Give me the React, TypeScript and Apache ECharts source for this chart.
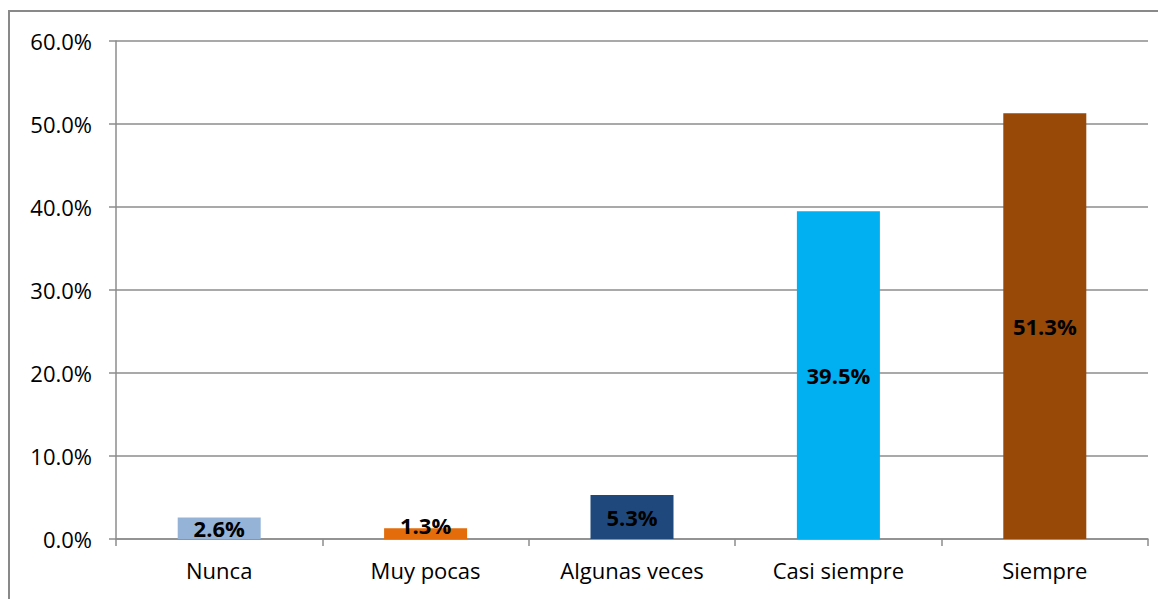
import React, { useEffect, useRef } from "react";
import * as echarts from "echarts";

const categories = ["Nunca", "Muy pocas", "Algunas veces", "Casi siempre", "Siempre"];
const values = [2.6, 1.3, 5.3, 39.5, 51.3];
const colors = ["#95B3D7", "#E46C0A", "#1F497D", "#00B0F0", "#984807"];
const yTicks = { min: 0, max: 60, interval: 10 };

export default function App() {
  const ref = useRef<HTMLDivElement>(null);
  useEffect(() => {
    if (!ref.current) return;
    const chart = echarts.init(ref.current, undefined, { renderer: "svg" });
    const font = "Open Sans";
    chart.setOption({
      animation: false,
      backgroundColor: "#ffffff",
      graphic: [
        {
          type: "rect",
          shape: { x: 1, y: 3, width: 1300, height: 800 },
          style: { fill: "none", stroke: "#898989", lineWidth: 2 },
          silent: true,
        },
      ],
      grid: { left: 108, top: 33, right: 18, bottom: 60, containLabel: false },
      xAxis: {
        type: "category",
        data: categories,
        axisLine: { show: true, lineStyle: { color: "#8c8c8c", width: 1.5 } },
        axisTick: { show: true, length: 7, lineStyle: { color: "#8c8c8c", width: 1.5 } },
        axisLabel: { color: "#000", fontFamily: font, fontSize: 22, margin: 20 },
      },
      yAxis: {
        type: "value",
        min: yTicks.min,
        max: yTicks.max,
        interval: yTicks.interval,
        axisLine: { show: true, lineStyle: { color: "#8c8c8c", width: 1.5 } },
        axisTick: { show: true, length: 7, lineStyle: { color: "#8c8c8c", width: 1.5 } },
        splitLine: { show: true, lineStyle: { color: "#8c8c8c", width: 1.5 } },
        axisLabel: {
          color: "#000",
          fontFamily: font,
          fontSize: 22,
          margin: 24,
          formatter: (v: number) => v.toFixed(1) + "%",
        },
      },
      series: [
        {
          type: "bar",
          barWidth: 83,
          data: values.map((v, i) => ({
            value: v,
            itemStyle: { color: colors[i] },
            label: i === 1 ? { offset: [0, -9] } : undefined,
          })),
          label: {
            show: true,
            position: "inside",
            color: "#000",
            fontFamily: font,
            fontWeight: "bold",
            fontSize: 22,
            formatter: (p: any) => p.value.toFixed(1) + "%",
          },
        },
      ],
    });
    return () => chart.dispose();
  }, []);
  return <div ref={ref} style={{ width: 1158, height: 591 }} />;
}
